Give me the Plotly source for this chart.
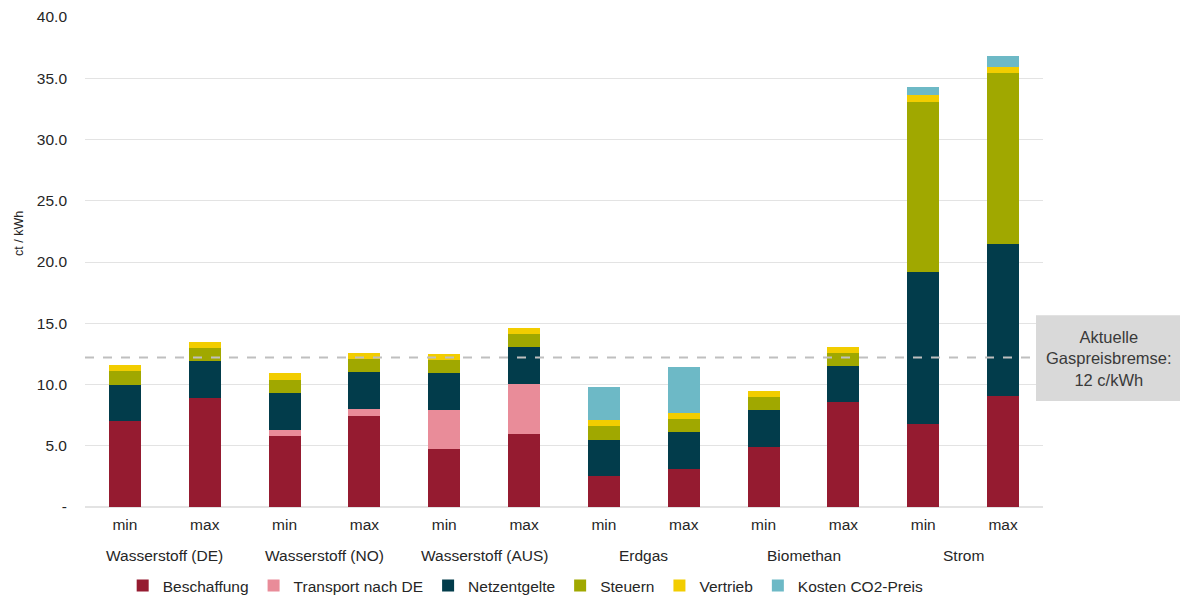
import plotly.graph_objects as go

groups = ["Wasserstoff (DE)", "Wasserstoff (NO)", "Wasserstoff (AUS)", "Erdgas", "Biomethan", "Strom"]
variants = ["min", "max"] * 6

beschaffung = [7.0, 8.9, 5.8, 7.4, 4.7, 6.0, 2.5, 3.1, 4.9, 8.6, 6.8, 9.1]
transport = [0, 0, 0.5, 0.6, 3.2, 4.05, 0, 0, 0, 0, 0, 0]
netzentgelte = [3.0, 3.0, 3.0, 3.0, 3.0, 3.0, 3.0, 3.0, 3.0, 2.9, 12.4, 12.4]
steuern = [1.1, 1.1, 1.1, 1.1, 1.1, 1.1, 1.1, 1.1, 1.1, 1.1, 13.9, 13.9]
vertrieb = [0.5, 0.5, 0.5, 0.5, 0.5, 0.5, 0.5, 0.5, 0.5, 0.5, 0.55, 0.55]
co2 = [0, 0, 0, 0, 0, 0, 2.7, 3.75, 0, 0, 0.6, 0.87]

gaspreisbremse = 12.2

y_ticks = [0, 5, 10, 15, 20, 25, 30, 35, 40]
y_ticktext = ["-", "5.0", "10.0", "15.0", "20.0", "25.0", "30.0", "35.0", "40.0"]

series = [
    ("Beschaffung", beschaffung, "#951B30"),
    ("Transport nach DE", transport, "#E98C99"),
    ("Netzentgelte", netzentgelte, "#023C4B"),
    ("Steuern", steuern, "#A0A800"),
    ("Vertrieb", vertrieb, "#F2CD00"),
    ("Kosten CO2-Preis", co2, "#6DB9C6"),
]

x = list(range(len(variants)))
fig = go.Figure()
for name, vals, col in series:
    fig.add_trace(go.Bar(x=x, y=vals, name=name, marker=dict(color=col, line=dict(width=0)),
                         width=0.4))

font = "Liberation Sans, Arial, sans-serif"
fs = 15.5
fig.update_layout(
    barmode="stack",
    width=1180, height=598,
    margin=dict(l=85, r=137, t=17, b=91, autoexpand=False),
    plot_bgcolor="white", paper_bgcolor="white",
    font=dict(family=font, size=fs, color="#262626"),
    showlegend=True,
    legend=dict(orientation="h", x=0.46, xanchor="center", yref="container", y=0.02, yanchor="middle",
                font=dict(size=fs, color="#262626"), itemwidth=30, tracegroupgap=0,
                traceorder="normal"),
    bargap=0.6,
)
fig.update_xaxes(
    tickmode="array", tickvals=x, ticktext=variants, range=[-0.5, 11.5],
    showgrid=False, zeroline=False, showline=False, ticks="", ticklabelstandoff=6,
    tickfont=dict(size=fs, color="#262626"),
)
fig.update_yaxes(
    range=[0, 40], tickmode="array", tickvals=y_ticks, ticktext=y_ticktext,
    showgrid=True, gridcolor="#E3E3E3", gridwidth=1, zeroline=True, zerolinecolor="#E3E3E3",
    zerolinewidth=2, showline=False, ticks="", ticklabelstandoff=17,
    tickfont=dict(size=fs, color="#262626"),
)

# group labels
for i, g in enumerate(groups):
    fig.add_annotation(x=2 * i + 0.5, y=-0.098, xref="x", yref="paper", text=g,
                       showarrow=False, xanchor="center", yanchor="middle",
                       font=dict(size=fs, color="#262626"))

# y axis title
fig.add_annotation(x=-0.069, y=0.559, xref="paper", yref="paper", text="ct / kWh",
                   textangle=-90, showarrow=False, xanchor="center", yanchor="middle",
                   font=dict(size=12.5, color="#262626"))

# dashed reference line
fig.add_shape(type="line", xref="paper", yref="y", x0=0, x1=0.993, y0=gaspreisbremse, y1=gaspreisbremse,
              line=dict(color="#BFBFBF", width=2, dash="dash"), layer="above")
# box
fig.add_shape(type="rect", xref="paper", yref="y", x0=0.9927, x1=1.2, y0=8.65, y1=15.65,
              fillcolor="#D9D9D9", line=dict(width=0), layer="above")
fig.add_annotation(x=1.069, y=gaspreisbremse - 0.05, xref="paper", yref="y",
                   text="Aktuelle<br>Gaspreisbremse:<br>12 c/kWh", showarrow=False,
                   xanchor="center", yanchor="middle", align="center",
                   font=dict(size=16.5, color="#3A3A3A"))

fig.write_html("out.html")
